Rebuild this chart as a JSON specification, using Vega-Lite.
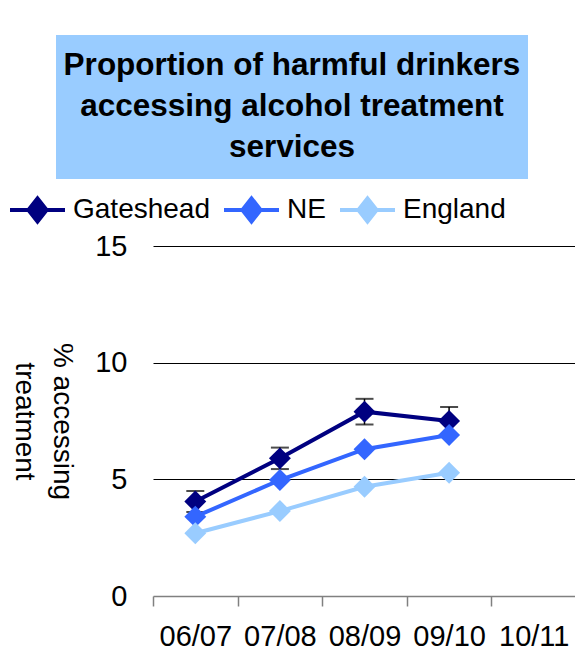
{
  "$schema": "https://vega.github.io/schema/vega-lite/v6.json",
  "background": "white",
  "padding": {"left": 8, "top": 35, "right": 0, "bottom": 0},
  "config": {"font": "Liberation Sans", "view": {"stroke": null}},
  "spacing": 53,
  "datasets": {
    "titleText": [{"t": "Proportion of harmful drinkers\naccessing alcohol treatment\nservices"}],
    "series": [
      {"period": "06/07", "area": "Gateshead", "value": 4.05, "lo": 3.6, "hi": 4.5},
      {"period": "07/08", "area": "Gateshead", "value": 5.9, "lo": 5.44, "hi": 6.36},
      {"period": "08/09", "area": "Gateshead", "value": 7.9, "lo": 7.35, "hi": 8.45},
      {"period": "09/10", "area": "Gateshead", "value": 7.5, "lo": 6.9, "hi": 8.1},
      {"period": "06/07", "area": "NE", "value": 3.4},
      {"period": "07/08", "area": "NE", "value": 4.97},
      {"period": "08/09", "area": "NE", "value": 6.29},
      {"period": "09/10", "area": "NE", "value": 6.9},
      {"period": "06/07", "area": "England", "value": 2.69},
      {"period": "07/08", "area": "England", "value": 3.64},
      {"period": "08/09", "area": "England", "value": 4.68},
      {"period": "09/10", "area": "England", "value": 5.28}
    ]
  },
  "vconcat": [
    {
      "width": 472,
      "height": 144,
      "view": {"fill": "#99CCFF", "stroke": null},
      "data": {"name": "titleText"},
      "mark": {"type": "text", "fontSize": 31.5, "fontWeight": "bold", "lineHeight": 41, "lineBreak": "\n", "align": "center", "baseline": "middle", "dy": -41, "color": "black"},
      "encoding": {"text": {"field": "t"}}
    },
    {
      "width": 520,
      "height": 350,
      "data": {"name": "series"},
      "encoding": {
        "x": {
          "field": "period", "type": "ordinal",
          "scale": {"domain": ["06/07", "07/08", "08/09", "09/10", "10/11"], "range": [97, 520], "paddingInner": 0, "paddingOuter": 0},
          "axis": {"title": null, "labelAngle": 0, "labelFontSize": 29, "labelColor": "black", "labelPadding": 16, "tickBand": "extent", "tickSize": 10, "tickColor": "#808080", "tickWidth": 1.5, "domain": false, "labelBound": false, "labelOverlap": false}
        }
      },
      "layer": [
        {
          "transform": [{"filter": "datum.area === 'Gateshead'"}],
          "mark": {"type": "errorbar", "ticks": {"size": 18, "thickness": 2, "color": "black"}, "rule": {"strokeWidth": 1.5, "color": "black"}},
          "encoding": {
            "y": {"field": "lo", "type": "quantitative", "title": ["% accessing", "treatment"]},
            "y2": {"field": "hi"}
          }
        },
        {
          "mark": {"type": "line", "strokeWidth": 4, "point": {"shape": "diamond", "filled": true, "size": 480, "opacity": 1}},
          "encoding": {
            "y": {
              "field": "value", "type": "quantitative",
              "scale": {"domain": [0, 15], "nice": false},
              "title": ["% accessing", "treatment"],
              "axis": {"values": [0, 5, 10, 15], "offset": -97, "labelFontSize": 29, "labelColor": "black", "labelPadding": 26, "ticks": false, "domain": false,
                "gridColor": {"condition": {"test": "datum.value === 0", "value": "#808080"}, "value": "black"},
                "gridWidth": {"condition": {"test": "datum.value === 0", "value": 1.5}, "value": 1},
                "gridOpacity": 1, "titleFontSize": 28, "titleFontWeight": "normal", "titleColor": "black", "titleAngle": 90, "titleLineHeight": 38, "titlePadding": 9}
            },
            "color": {
              "field": "area", "type": "nominal",
              "scale": {"domain": ["Gateshead", "NE", "England"], "range": ["#000080", "#3366FF", "#99CCFF"]},
              "legend": {
                "title": null, "orient": "none", "legendX": -48, "legendY": 145, "direction": "horizontal",
                "labelFontSize": 28, "labelColor": "black", "labelOffset": 6, "columnPadding": 6,
                "symbolType": "M-1,0H1M0,-0.42L0.33,0L0,0.42L-0.33,0Z", "symbolSize": 3025, "symbolStrokeWidth": 4,
                "encode": {"symbols": {"update": {"fill": {"scale": "color", "field": "value"}, "stroke": {"scale": "color", "field": "value"}, "opacity": {"value": 1}}}}
              }
            }
          }
        }
      ]
    }
  ]
}
